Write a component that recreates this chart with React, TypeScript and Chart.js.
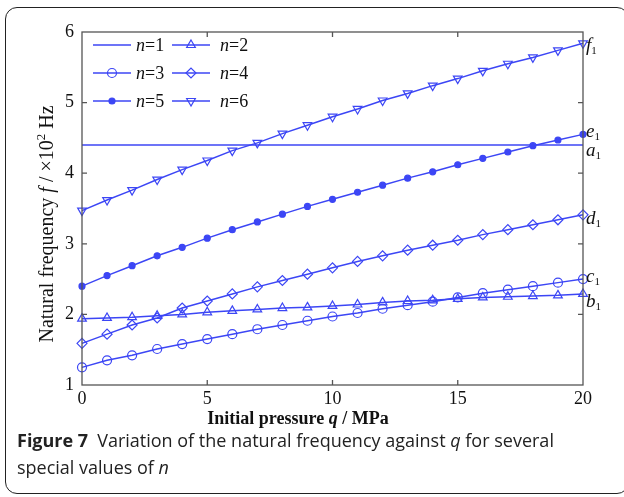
import React, { useEffect, useRef } from 'react';
import { Chart, registerables } from 'chart.js';
import { drawPoint } from 'chart.js/helpers';

Chart.register(...registerables);

const BLUE = 'rgb(60,70,245)';
const SERIF = '"Liberation Serif", "Times New Roman", serif';

// Data
const pressureQ = [0, 1, 2, 3, 4, 5, 6, 7, 8, 9, 10, 11, 12, 13, 14, 15, 16, 17, 18, 19, 20];
const modeNumbers = ['1', '2', '3', '4', '5', '6'];
const endLetters = ['a', 'b', 'c', 'd', 'e', 'f'];
const freqN1 = [4.40, 4.40, 4.40, 4.40, 4.40, 4.40, 4.40, 4.40, 4.40, 4.40, 4.40, 4.40, 4.40, 4.40, 4.40, 4.40, 4.40, 4.40, 4.40, 4.40, 4.40];
const freqN2 = [1.94, 1.95, 1.96, 1.98, 2.00, 2.03, 2.05, 2.07, 2.09, 2.10, 2.12, 2.14, 2.17, 2.19, 2.20, 2.22, 2.24, 2.25, 2.26, 2.27, 2.29];
const freqN3 = [1.25, 1.35, 1.42, 1.51, 1.58, 1.65, 1.72, 1.79, 1.85, 1.91, 1.97, 2.02, 2.08, 2.13, 2.18, 2.24, 2.30, 2.35, 2.40, 2.45, 2.50];
const freqN4 = [1.59, 1.72, 1.85, 1.95, 2.09, 2.19, 2.29, 2.39, 2.48, 2.57, 2.66, 2.75, 2.83, 2.91, 2.98, 3.05, 3.13, 3.20, 3.27, 3.34, 3.41];
const freqN5 = [2.40, 2.55, 2.69, 2.83, 2.95, 3.08, 3.20, 3.31, 3.42, 3.53, 3.63, 3.73, 3.83, 3.93, 4.02, 4.12, 4.21, 4.30, 4.39, 4.47, 4.55];
const freqN6 = [3.47, 3.62, 3.76, 3.91, 4.05, 4.18, 4.32, 4.43, 4.56, 4.68, 4.80, 4.91, 5.03, 5.13, 5.24, 5.34, 5.45, 5.55, 5.64, 5.74, 5.84];
const xTickValues = [0, 5, 10, 15, 20];
const yTickValues = [1, 2, 3, 4, 5, 6];

const allSeries = [freqN1, freqN2, freqN3, freqN4, freqN5, freqN6];

// Styles (not data)
const markerStyles = [
  { pointStyle: 'circle', radius: 0, rotation: 0, fill: false },
  { pointStyle: 'triangle', radius: 5, rotation: 0, fill: false },
  { pointStyle: 'circle', radius: 4.5, rotation: 0, fill: false },
  { pointStyle: 'rectRot', radius: 5, rotation: 0, fill: false },
  { pointStyle: 'circle', radius: 3, rotation: 0, fill: true },
  { pointStyle: 'triangle', radius: 5, rotation: 180, fill: false },
];
const endLabelOffsets = [6, 8, -2, 4, -2, 3];

function drawRich(ctx: CanvasRenderingContext2D, parts: { t: string; f: string; dy?: number }[], x: number, y: number) {
  let cx = x;
  for (const p of parts) {
    ctx.font = p.f;
    ctx.fillText(p.t, cx, y + (p.dy || 0));
    cx += ctx.measureText(p.t).width;
  }
  return cx - x;
}
function richWidth(ctx: CanvasRenderingContext2D, parts: { t: string; f: string }[]) {
  let w = 0;
  for (const p of parts) {
    ctx.font = p.f;
    w += ctx.measureText(p.t).width;
  }
  return w;
}

const overlayPlugin = {
  id: 'overlay',
  afterDraw(chart: any) {
    const { ctx, chartArea: a, scales } = chart;
    const xs = scales.x;
    const ys = scales.y;
    ctx.save();
    // frame
    ctx.strokeStyle = '#555';
    ctx.lineWidth = 1.3;
    ctx.strokeRect(a.left, a.top, a.right - a.left, a.bottom - a.top);
    // inward ticks
    ctx.beginPath();
    for (const v of xTickValues) {
      if (v === xs.min || v === xs.max) continue;
      const px = xs.getPixelForValue(v);
      ctx.moveTo(px, a.bottom);
      ctx.lineTo(px, a.bottom - 5);
      ctx.moveTo(px, a.top);
      ctx.lineTo(px, a.top + 5);
    }
    for (const v of yTickValues) {
      if (v === ys.min || v === ys.max) continue;
      const py = ys.getPixelForValue(v);
      ctx.moveTo(a.left, py);
      ctx.lineTo(a.left + 5, py);
      ctx.moveTo(a.right, py);
      ctx.lineTo(a.right - 5, py);
    }
    ctx.stroke();

    ctx.fillStyle = '#111';
    ctx.textBaseline = 'alphabetic';
    // x-axis title
    const xParts = [
      { t: 'Initial pressure ', f: `bold 18px ${SERIF}` },
      { t: 'q', f: `italic bold 18px ${SERIF}` },
      { t: ' / MPa', f: `bold 18px ${SERIF}` },
    ];
    const xw = richWidth(ctx, xParts);
    drawRich(ctx, xParts, 298 - xw / 2, 424);

    // y-axis title
    const yParts = [
      { t: 'Natural frequency ', f: `20px ${SERIF}` },
      { t: 'f', f: `italic 20px ${SERIF}` },
      { t: ' / ×10', f: `20px ${SERIF}` },
      { t: '2', f: `13px ${SERIF}`, dy: -8 },
      { t: ' Hz', f: `20px ${SERIF}` },
    ];
    const yw = richWidth(ctx, yParts);
    ctx.save();
    ctx.translate(53, 224);
    ctx.rotate(-Math.PI / 2);
    drawRich(ctx, yParts, -yw / 2, 0);
    ctx.restore();

    // end labels
    ctx.textBaseline = 'middle';
    chart.data.datasets.forEach((ds: any, i: number) => {
      const last = ds.data[ds.data.length - 1];
      const py = ys.getPixelForValue(last.y) + endLabelOffsets[i];
      const px = a.right + 3;
      drawRich(ctx, [
        { t: endLetters[i], f: `italic 19px ${SERIF}` },
        { t: '1', f: `11px ${SERIF}`, dy: 5 },
      ], px, py);
    });

    // legend
    ctx.textBaseline = 'middle';
    chart.data.datasets.forEach((ds: any, i: number) => {
      const row = Math.floor(i / 2);
      const col = i % 2;
      const ly = a.top + 13 + row * 28;
      const lx0 = col === 0 ? a.left + 11 : a.left + 90;
      const lx1 = lx0 + 38;
      ctx.strokeStyle = BLUE;
      ctx.lineWidth = 1.5;
      ctx.beginPath();
      ctx.moveTo(lx0, ly);
      ctx.lineTo(lx1, ly);
      ctx.stroke();
      const m = markerStyles[i];
      if (m.radius > 0) {
        ctx.fillStyle = m.fill ? BLUE : 'rgba(0,0,0,0)';
        ctx.strokeStyle = BLUE;
        ctx.lineWidth = 1.2;
        drawPoint(ctx, { pointStyle: m.pointStyle as any, radius: m.radius, rotation: m.rotation, borderWidth: 1.2 }, (lx0 + lx1) / 2, ly);
      }
      ctx.fillStyle = '#111';
      const tx = col === 0 ? lx1 + 5 : lx1 + 10;
      drawRich(ctx, [
        { t: 'n', f: `italic 18px ${SERIF}` },
        { t: '=' + modeNumbers[i], f: `18px ${SERIF}` },
      ], tx, ly + 1);
    });
    ctx.restore();
  },
};

export default function App() {
  const ref = useRef<HTMLCanvasElement>(null);
  useEffect(() => {
    if (!ref.current) return;
    const datasets = allSeries.map((vals, i) => {
      const m = markerStyles[i];
      return {
        label: 'n=' + modeNumbers[i],
        data: vals.map((v, k) => ({ x: pressureQ[k], y: v })),
        borderColor: BLUE,
        borderWidth: 1.5,
        backgroundColor: m.fill ? BLUE : 'rgba(0,0,0,0)',
        pointBorderColor: BLUE,
        pointBackgroundColor: m.fill ? BLUE : 'rgba(0,0,0,0)',
        pointStyle: m.pointStyle,
        pointRadius: m.radius,
        pointRotation: m.rotation,
        pointBorderWidth: 1.2,
        fill: false,
        tension: 0,
        clip: false,
      };
    });
    const chart = new Chart(ref.current, {
      type: 'line',
      data: { datasets },
      options: {
        responsive: false,
        animation: false,
        events: [],
        layout: { padding: { left: 0, right: 41, top: 32, bottom: 0 } },
        plugins: { legend: { display: false }, tooltip: { enabled: false }, title: { display: false } },
        scales: {
          x: {
            type: 'linear',
            min: 0,
            max: 20,
            afterFit: (s: any) => { s.height = 50; },
            afterBuildTicks: (s: any) => { s.ticks = xTickValues.map((v) => ({ value: v })); },
            grid: { display: false, drawTicks: false, tickLength: 0 },
            border: { display: false },
            ticks: { color: '#111', font: { family: SERIF, size: 18 }, padding: 3, maxRotation: 0 },
          },
          y: {
            type: 'linear',
            min: 1,
            max: 6,
            afterFit: (s: any) => { s.width = 82; },
            afterBuildTicks: (s: any) => { s.ticks = yTickValues.map((v) => ({ value: v })); },
            grid: { display: false, drawTicks: false, tickLength: 0 },
            border: { display: false },
            ticks: { color: '#111', font: { family: SERIF, size: 18 }, padding: 8 },
          },
        },
      },
      plugins: [overlayPlugin],
    } as any);
    return () => chart.destroy();
  }, []);

  return (
    <div style={{ position: 'absolute', left: 0, top: 0, width: 624, height: 497, overflow: 'hidden', background: '#fff' }}>
      <div
        style={{
          position: 'absolute',
          left: 5,
          top: 7,
          width: 624,
          height: 487,
          boxSizing: 'border-box',
          border: '1px solid #222',
          borderRadius: 12,
        }}
      />
      <canvas ref={ref} width={624} height={435} style={{ position: 'absolute', left: 0, top: 0, width: 624, height: 435 }} />
      <div
        style={{
          position: 'absolute',
          left: 17,
          top: 427,
          fontFamily: '"Open Sans", "Noto Sans", sans-serif',
          fontSize: 18,
          lineHeight: '27px',
          color: '#222',
          whiteSpace: 'nowrap',
        }}
      >
        <span style={{ fontWeight: 700 }}>Figure 7</span>
        {'\u2002'}Variation of the natural frequency against <i>q</i> for several
        <br />
        special values of <i>n</i>
      </div>
    </div>
  );
}
